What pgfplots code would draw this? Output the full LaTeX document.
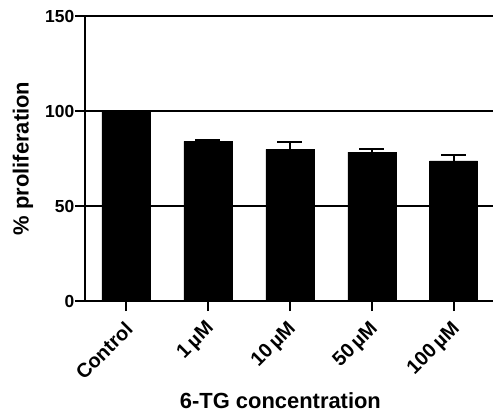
\documentclass[border=0pt]{standalone}
\usepackage{pgfplots}
\pgfplotsset{compat=1.18}
\usepackage{fontspec}
\setmainfont{Liberation Sans}
\begin{document}
\begin{tikzpicture}
\begin{axis}[
  scale only axis,
  width=408bp, height=285bp,
  xmin=-0.5, xmax=4.48,
  ymin=0, ymax=150,
  ytick={0,50,100,150},
  xtick={0,1,2,3,4},
  xticklabels={Control,1\,µM,10\,µM,50\,µM,100\,µM},
  axis lines*=left,
  axis line style={line width=1.8bp},
  ymajorgrids,
  grid style={line width=1.8bp, black},
  tick align=outside,
  major tick length=10bp,
  tick style={line width=1.8bp, black},
  /pgf/number format/assume math mode=true,
  yticklabel style={font=\fontsize{17.5}{19}\selectfont\bfseries, inner sep=0.5bp},
  xticklabel style={font=\fontsize{20}{22}\selectfont\bfseries, yshift=-14bp, xshift=4bp, rotate=45, anchor=east, inner sep=1bp},
  ylabel={\% proliferation},
  ylabel style={font=\fontsize{22}{24}\selectfont\bfseries, at={(axis description cs:-0.152,0.5)}, anchor=center},
  xlabel={6-TG concentration},
  xlabel style={font=\fontsize{22}{24}\selectfont\bfseries, at={(axis description cs:0.479,-0.351)}, anchor=center},
]
\addplot[ybar, bar width=48bp, fill=black, draw=black,
  error bars/.cd, y dir=plus, y explicit,
  error bar style={line width=1.8bp, black},
  error mark options={rotate=90, mark size=12.5bp, line width=1.8bp, black}]
  coordinates {
    (0,100) +- (0,0)
    (1,84) +- (0,0.8)
    (2,79.8) +- (0,4)
    (3,78.3) +- (0,1.7)
    (4,73.8) +- (0,3)
  };
\end{axis}
\pgfresetboundingbox
\useasboundingbox (-85bp,-116bp) rectangle (408bp,301bp);
\end{tikzpicture}
\end{document}
